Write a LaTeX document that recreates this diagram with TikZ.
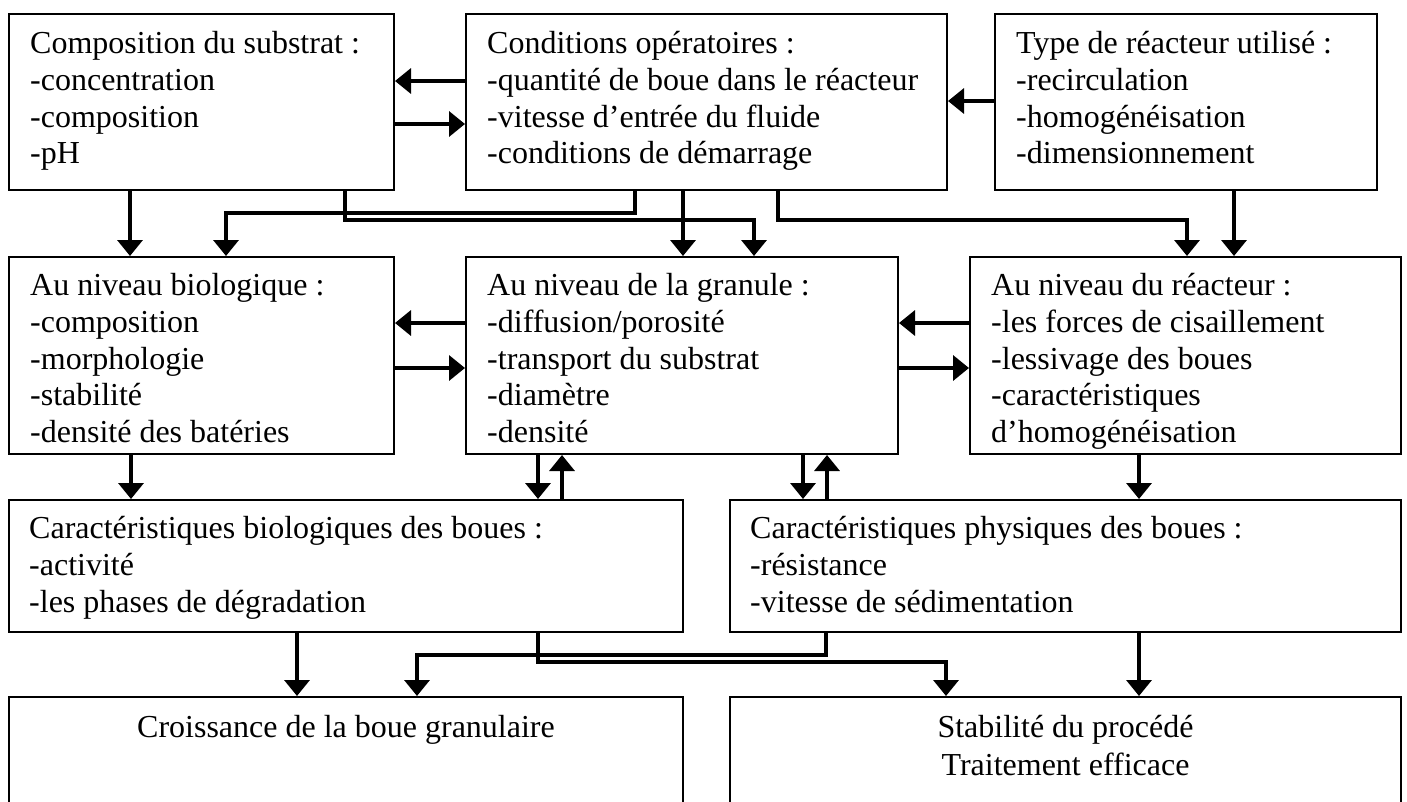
\documentclass[tikz,border=0pt]{standalone}
\usepackage{fontspec}
\setmainfont{Liberation Serif}
\usetikzlibrary{arrows.meta}

\begin{document}
\begin{tikzpicture}[x=1pt, y=-1pt,
    box/.style={draw, line width=2pt, rectangle, inner sep=0pt, anchor=north west},
    txt/.style={anchor=north west, align=left, inner sep=0pt, font=\fontsize{32}{36.8}\selectfont},
    ctxt/.style={anchor=north, align=center, inner sep=0pt, font=\fontsize{32}{38}\selectfont},
    arr/.style={-{Triangle[length=16pt,width=25pt]}, line width=3.5pt}]
    \useasboundingbox (0,0) rectangle (1407,801);
    % first row: what we choose
    \node[box, minimum width=385, minimum height=176] (sub) at (8,13) {};
    \node[box, minimum width=481, minimum height=176] (cond) at (465,13) {};
    \node[box, minimum width=382, minimum height=176] (type) at (994,13) {};
    \node[txt] (subt) at ([shift={(22,18)}]sub.north west) {Composition du substrat :\\-concentration\\-composition\\-pH};
    \node[txt] (condt) at ([shift={(22,18)}]cond.north west) {Conditions opératoires :\\-quantité de boue dans le réacteur\\-vitesse d’entrée du fluide\\-conditions de démarrage};
    \node[txt] (typet) at ([shift={(22,18)}]type.north west) {Type de réacteur utilisé :\\-recirculation\\-homogénéisation\\-dimensionnement};
    % second row: the three levels
    \node[box, minimum width=385, minimum height=197] (bio) at (8,256) {};
    \node[box, minimum width=432, minimum height=197] (gran) at (465,256) {};
    \node[box, minimum width=431, minimum height=197] (reac) at (969,256) {};
    \node[txt] (biot) at ([shift={(22,17)}]bio.north west) {Au niveau biologique :\\-composition\\-morphologie\\-stabilité\\-densité des batéries};
    \node[txt] (grant) at ([shift={(22,17)}]gran.north west) {Au niveau de la granule :\\-diffusion/porosité\\-transport du substrat\\-diamètre\\-densité};
    \node[txt] (react) at ([shift={(22,17)}]reac.north west) {Au niveau du réacteur :\\-les forces de cisaillement\\-lessivage des boues\\-caractéristiques\\d’homogénéisation};
    % third row: sludge properties
    \node[box, minimum width=674, minimum height=132] (cbio) at (8,499) {};
    \node[box, minimum width=671, minimum height=132] (cphys) at (729,499) {};
    \node[txt] (cbiot) at ([shift={(21,17)}]cbio.north west) {Caractéristiques biologiques des boues :\\-activité\\-les phases de dégradation};
    \node[txt] (cphyst) at ([shift={(21,17)}]cphys.north west) {Caractéristiques physiques des boues :\\-résistance\\-vitesse de sédimentation};
    % last row: results (cut at the bottom)
    \node[box, minimum width=674, minimum height=140] (croiss) at (8,696) {};
    \node[box, minimum width=671, minimum height=140] (stab) at (729,696) {};
    \node[ctxt] (croisst) at ([yshift=-19pt]croiss.north) {Croissance de la boue granulaire};
    \node[ctxt] (stabt) at ([yshift=-19pt]stab.north) {Stabilité du procédé\\Traitement efficace};

    % row 1 side arrows
    \draw[arr] ([yshift=21pt]cond.west) -- ([yshift=21pt]sub.east);
    \draw[arr] ([yshift=-22pt]sub.east) -- ([yshift=-22pt]cond.west);
    \draw[arr] ([yshift=1pt]type.west) -- ([yshift=1pt]cond.east);
    % row 1 to row 2
    \draw[arr] ([xshift=-71.5pt]sub.south) -- ([xshift=-71.5pt]bio.north);
    \draw[arr] ([xshift=-71.5pt]cond.south) -- ++(0,22) -| ([xshift=24.5pt]bio.north);
    \draw[arr] ([xshift=143.5pt]sub.south) -- ++(0,29) -| ([xshift=72pt]gran.north);
    \draw[arr] ([xshift=-23.5pt]cond.south) -- ([xshift=-23.5pt]cond.south |- gran.north);
    \draw[arr] ([xshift=71.5pt]cond.south) -- ++(0,29) -| ([xshift=1.5pt]reac.north);
    \draw[arr] ([xshift=48pt]type.south) -- ([xshift=48pt]type.south |- reac.north);
    % row 2 side arrows
    \draw[arr] ([yshift=32.5pt]gran.west) -- ([yshift=32.5pt]bio.east);
    \draw[arr] ([yshift=-12.5pt]bio.east) -- ([yshift=-12.5pt]gran.west);
    \draw[arr] ([yshift=32.5pt]reac.west) -- ([yshift=32.5pt]gran.east);
    \draw[arr] ([yshift=-12.5pt]gran.east) -- ([yshift=-12.5pt]reac.west);
    % row 2 to row 3
    \draw[arr] ([xshift=-70.5pt]bio.south) -- ([xshift=-70.5pt]bio.south |- cbio.north);
    \draw[arr] ([xshift=-144pt]gran.south) -- ([xshift=-144pt]gran.south |- cbio.north);
    \draw[arr] ([xshift=-120pt]gran.south |- cbio.north) -- ([xshift=-120pt]gran.south);
    \draw[arr] ([xshift=121pt]gran.south) -- ([xshift=121pt]gran.south |- cphys.north);
    \draw[arr] ([xshift=145pt]gran.south |- cphys.north) -- ([xshift=145pt]gran.south);
    \draw[arr] ([xshift=-46.5pt]reac.south) -- ([xshift=-46.5pt]reac.south |- cphys.north);
    % row 3 to row 4
    \draw[arr] ([xshift=-49pt]cbio.south) -- ([xshift=-49pt]croiss.north);
    \draw[arr] ([xshift=192pt]cbio.south) -- ++(0,29) -| ([xshift=-119.5pt]stab.north);
    \draw[arr] ([xshift=-239.5pt]cphys.south) -- ++(0,22) -| ([xshift=71pt]croiss.north);
    \draw[arr] ([xshift=73.5pt]cphys.south) -- ([xshift=73.5pt]stab.north);
\end{tikzpicture}
\end{document}
